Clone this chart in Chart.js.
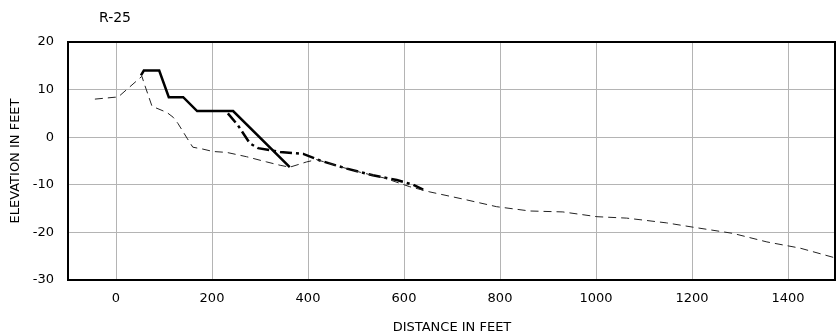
<!DOCTYPE html>
<html>
<head>
<meta charset="utf-8">
<script src="https://cdn.jsdelivr.net/npm/chart.js@4"></script>
<style>
  html, body { margin: 0; padding: 0; background: #fff; }
  #wrap { position: relative; width: 836px; height: 336px; }
</style>
</head>
<body>
<div id="wrap"><canvas id="chart" width="836" height="336"></canvas></div>
<script>
const profileTitle = 'R-25';
const xTicks = [0, 200, 400, 600, 800, 1000, 1200, 1400];

// existing ground profile (thin dashed)
const groundX = [-44, -2, 4, 54, 58, 75, 106, 119, 129, 148, 160, 181, 202, 231, 272, 314, 342, 362, 397, 418, 460, 510, 560, 612, 654, 723, 793, 862, 931, 1002, 1064, 1147, 1202, 1285, 1356, 1425, 1500];
const groundY = [8.0, 8.4, 8.4, 12.8, 11.5, 6.5, 5.2, 4.2, 2.9, -0.2, -2.1, -2.5, -3.0, -3.2, -4.1, -5.2, -5.9, -6.3, -5.2, -4.7, -6.0, -7.4, -8.6, -10.4, -11.5, -13.0, -14.6, -15.5, -15.7, -16.7, -17.0, -18.0, -18.9, -20.2, -22.0, -23.3, -25.4];

// structure section (thick solid)
const structX = [52, 58, 90, 110, 140, 169, 244, 362];
const structY = [13, 14, 14, 8.4, 8.4, 5.5, 5.5, -6.3];

// second profile (thick dash-dot)
const dashDotX = [233, 254, 279, 296, 342, 390, 425, 481, 535, 585, 619, 640];
const dashDotY = [5.0, 2.5, -1.3, -2.3, -3.1, -3.5, -4.9, -6.6, -8.0, -9.0, -10.0, -11.0];

const toPoints = (xs, ys) => xs.map((x, i) => ({ x: x, y: ys[i] }));

const textFont = { family: '"DejaVu Sans", sans-serif', size: 13 };

const frame = {
    id: 'frame',
    afterDraw(chart) {
        const { ctx, chartArea: a } = chart;
        ctx.save();
        ctx.strokeStyle = '#000';
        ctx.lineWidth = 2;
        ctx.strokeRect(a.left, a.top, a.right - a.left - 1, a.bottom - a.top);
        ctx.fillStyle = '#000';
        ctx.font = '14px "DejaVu Sans", sans-serif';
        ctx.textBaseline = 'middle';
        ctx.fillText(profileTitle, 99, 18);
        ctx.restore();
    }
};

new Chart(document.getElementById('chart').getContext('2d'), {
    type: 'scatter',
    data: {
        datasets: [
            {
                data: toPoints(groundX, groundY),
                showLine: true,
                borderColor: '#222',
                borderWidth: 1,
                borderDash: [8, 5],
                pointRadius: 0,
                tension: 0,
            },
            {
                data: toPoints(structX, structY),
                showLine: true,
                borderColor: '#000',
                borderWidth: 2.5,
                pointRadius: 0,
                tension: 0,
            },
            {
                data: toPoints(dashDotX, dashDotY),
                showLine: true,
                borderColor: '#000',
                borderWidth: 2.5,
                borderDash: [12, 4, 3, 4],
                pointRadius: 0,
                tension: 0,
            },
        ],
    },
    options: {
        responsive: false,
        animation: false,
        layout: { padding: { top: 42, right: 0, left: 0, bottom: 0 } },
        plugins: {
            legend: { display: false },
            tooltip: { enabled: false },
        },
        scales: {
            x: {
                type: 'linear',
                min: -100,
                max: 1500,
                afterBuildTicks: (scale) => {
                    scale.ticks = xTicks.map((v) => ({ value: v }));
                },
                afterFit: (scale) => { scale.height = 56; },
                grid: { color: '#b4b4b4', lineWidth: 1, drawTicks: false },
                border: { display: false },
                ticks: {
                    padding: 11,
                    color: '#000',
                    font: textFont,
                    callback: (v) => String(v),
                },
                title: {
                    display: true,
                    text: 'DISTANCE IN FEET',
                    color: '#000',
                    font: textFont,
                    padding: { top: 0, bottom: 1 },
                },
            },
            y: {
                min: -30,
                max: 20,
                ticks: {
                    stepSize: 10,
                    padding: 14,
                    color: '#000',
                    font: textFont,
                },
                afterFit: (scale) => { scale.width = 68; },
                grid: { color: '#b4b4b4', lineWidth: 1, drawTicks: false },
                border: { display: false },
                title: {
                    display: true,
                    text: 'ELEVATION IN FEET',
                    color: '#000',
                    font: textFont,
                    padding: { top: 8, bottom: 0 },
                },
            },
        },
    },
    plugins: [frame],
});
</script>
</body>
</html>
